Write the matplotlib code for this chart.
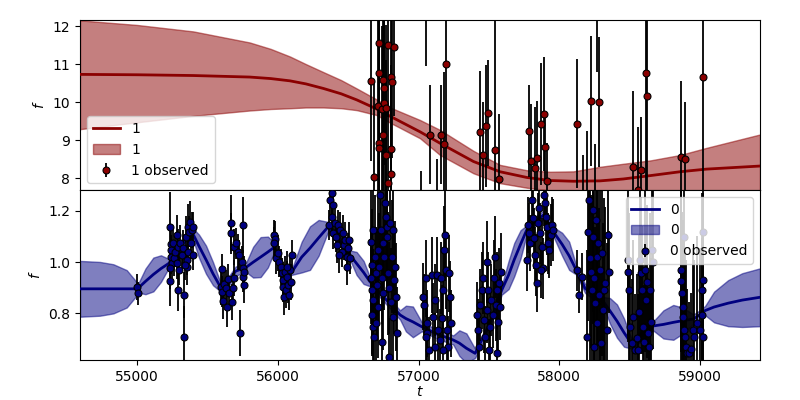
import matplotlib
matplotlib.use("Agg")
import matplotlib.pyplot as plt
import numpy as np

# ---- series "1" (top panel): GP mean and band
t1_grid = [54595, 55000, 55400, 55800, 55950, 56087, 56200, 56324, 56450, 56561, 56703,
           56798, 57011, 57153, 57390, 57579, 57769, 57934, 58100, 58290, 58455, 58650,
           58858, 59048, 59426]
mean1 = [10.73, 10.72, 10.70, 10.66, 10.62, 10.56, 10.48, 10.36, 10.22, 10.06, 9.82,
         9.63, 9.22, 8.92, 8.44, 8.17, 8.02, 7.94, 7.92, 7.93, 7.98, 8.07,
         8.17, 8.24, 8.32]
upper1 = [12.15, 12.03, 11.86, 11.57, 11.40, 11.20, 11.00, 10.79, 10.58, 10.36, 10.07,
          9.86, 9.53, 9.27, 8.72, 8.35, 8.21, 8.17, 8.18, 8.30, 8.38, 8.47,
          8.61, 8.80, 9.15]
lower1 = [9.29, 9.47, 9.64, 9.78, 9.82, 9.84, 9.86, 9.86, 9.84, 9.79, 9.66,
          9.46, 9.05, 8.61, 8.13, 7.87, 7.75, 7.68, 7.63, 7.58, 7.55, 7.55,
          7.58, 7.55, 7.45]

obs1_t = [56663, 56684, 56710, 56719, 56721, 56719, 56719, 56741, 56750, 56750, 56755,
          56755, 56769, 56769, 56781, 56785, 56802, 56802, 56802, 56809, 56828,
          57082, 57195, 57160, 57183, 57439, 57496, 57482, 57456, 57544, 57574,
          57787, 57892, 57873, 57799, 57830, 57844, 57901, 57913,
          58128, 58226, 58285, 58526, 58583, 58619, 58626, 58867, 58896, 59024,
          57051, 57020, 57129, 58169, 58197, 58254, 58271, 58562]
obs1_f = [10.56, 8.03, 9.90, 10.76, 11.55, 8.92, 8.79, 9.81, 10.58, 9.14, 10.36,
          9.99, 9.84, 8.61, 7.87, 11.50, 10.65, 8.77, 8.11, 10.52, 11.44,
          9.14, 10.99, 9.14, 8.90, 9.21, 9.71, 9.37, 8.60, 8.74, 7.98,
          9.24, 9.69, 9.43, 8.44, 8.26, 8.52, 8.81, 7.93,
          9.43, 10.03, 10.00, 8.29, 8.22, 10.76, 10.16, 8.56, 8.51, 10.65,
          12.7, 7.3, 7.5, 7.4, 7.5, 7.3, 12.8, 7.68]
obs1_err = [2.1, 2.5, 2.3, 2.2, 2.0, 2.6, 2.4, 2.2, 2.5, 2.3, 2.0,
            2.4, 2.2, 2.5, 2.1, 1.9, 2.4, 2.2, 2.3, 2.0, 1.8,
            1.3, 3.4, 1.3, 1.9, 1.6, 1.4, 1.6, 1.4, 3.4, 1.7,
            1.2, 1.5, 1.6, 1.5, 1.6, 1.5, 0.9, 1.0,
            1.7, 1.7, 1.7, 2.0, 1.4, 3.2, 2.9, 2.0, 1.5, 3.5,
            1.75, 0.9, 1.0, 1.2, 1.75, 1.6, 2.0, 1.66]

# ---- series "0" (bottom panel): GP mean and band half-width
t0_grid = [54595, 54737, 54832, 54927, 54986, 55005, 55060, 55116, 55170, 55225, 55300,
           55390, 55440, 55490, 55540, 55592, 55650, 55700, 55775, 55825, 55878, 55930,
           55975, 56040, 56110, 56170, 56229, 56290, 56359, 56430, 56513, 56560, 56610,
           56655, 56760, 56869, 56910, 56960, 57023, 57130, 57247, 57290, 57340, 57402,
           57500, 57591, 57640, 57680, 57725, 57769, 57830, 57887, 57958, 58020, 58070,
           58120, 58183, 58250, 58313, 58360, 58410, 58460, 58515, 58590, 58668, 58740,
           58810, 58880, 58953, 59000, 59036, 59100, 59200, 59300, 59426]
mean0 = [0.896, 0.896, 0.896, 0.896, 0.896, 0.897, 0.925, 0.952, 0.975, 0.995, 1.05,
         1.119, 1.063, 1.010, 0.955, 0.904, 0.925, 0.965, 0.980, 1.000, 1.020, 1.040,
         1.058, 0.96, 0.970, 1.020, 1.055, 1.095, 1.139, 1.09, 1.028, 0.995, 0.960,
         0.924, 0.86, 0.794, 0.780, 0.767, 0.748, 0.72, 0.696, 0.684, 0.664, 0.644,
         0.75, 0.891, 0.950, 1.010, 1.070, 1.126, 1.160, 1.184, 1.119, 1.070, 1.025,
         0.970, 0.898, 0.870, 0.846, 0.810, 0.770, 0.725, 0.680, 0.715, 0.751, 0.757,
         0.765, 0.772, 0.778, 0.795, 0.811, 0.825, 0.840, 0.852, 0.863]
half0 = [0.109, 0.105, 0.096, 0.073, 0.034, 0.015, 0.050, 0.066, 0.052, 0.018, 0.018,
         0.018, 0.045, 0.055, 0.045, 0.018, 0.018, 0.018, 0.018, 0.060, 0.078, 0.060,
         0.018, 0.018, 0.018, 0.060, 0.085, 0.070, 0.018, 0.018, 0.018, 0.045, 0.045,
         0.018, 0.018, 0.018, 0.050, 0.060, 0.018, 0.018, 0.018, 0.050, 0.058, 0.018,
         0.018, 0.018, 0.055, 0.065, 0.055, 0.018, 0.018, 0.018, 0.018, 0.045, 0.055,
         0.018, 0.018, 0.018, 0.018, 0.050, 0.065, 0.055, 0.018, 0.018, 0.018, 0.055,
         0.068, 0.050, 0.018, 0.018, 0.018, 0.060, 0.090, 0.105, 0.113]

obs0_t = [55002, 55004,
          55234, 55239, 55241, 55239, 55246, 55234, 55234, 55258, 55265, 55270, 55282, 55282,
          55294, 55301, 55306, 55289, 55317, 55329, 55336, 55336, 55348, 55353, 55360, 55365,
          55372, 55376, 55384, 55388, 55395, 55400, 55358, 55341,
          55601, 55594, 55601, 55609, 55618, 55632, 55639, 55649, 55656, 55665, 55665, 55672,
          55679, 55689, 55689, 55703, 55715, 55727, 55732, 55744, 55751, 55755, 55755, 55760,
          55763,
          55973, 55980, 55973, 55988, 56004, 56011, 56021, 56028, 56035, 56040, 56045, 56052,
          56059, 56068, 56075, 56082, 56087, 56099, 56094, 56063,
          56371, 56383, 56395, 56366, 56383, 56395, 56407, 56414, 56423, 56430, 56442, 56454,
          56461, 56471, 56478, 56490, 56494, 56502, 56508, 56513, 56438,
          56660, 56667, 56660, 56667, 56674, 56667, 56674, 56684, 56679, 56691, 56698, 56703,
          56710, 56715, 56722, 56727, 56731, 56738, 56746, 56750, 56755, 56762, 56769, 56774,
          56779, 56786, 56793, 56798, 56803, 56809, 56817, 56821, 56826, 56833, 56840, 56845,
          56793, 56698, 56738,
          57035, 57040, 57054, 57058, 57063, 57077, 57094, 57106, 57118, 57129, 57141, 57153,
          57158, 57165, 57172, 57182, 57189, 57196, 57200, 57212, 57219, 57224, 57229, 57054,
          57118, 57177,
          57414, 57425, 57433, 57437, 57449, 57456, 57466, 57473, 57485, 57489, 57497, 57508,
          57513, 57527, 57537, 57544, 57551, 57556, 57560, 57567, 57575, 57579, 57584, 57504,
          57781, 57788, 57792, 57773, 57804, 57811, 57821, 57828, 57835, 57845, 57852, 57859,
          57864, 57876, 57882, 57892, 57899, 57906, 57916, 57923, 57930, 57939, 57946, 57954,
          57868,
          58124, 58160, 58143,
          58207, 58219, 58224, 58231, 58238, 58242, 58247, 58254, 58261, 58266, 58271, 58278,
          58285, 58290, 58294, 58302, 58309, 58318, 58325, 58337, 58349, 58356, 58195, 58214,
          58249,
          58491, 58498, 58503, 58515, 58527, 58539, 58555, 58562, 58569, 58574, 58579, 58586,
          58593, 58602, 58609, 58616, 58621, 58633, 58640, 58645, 58650, 58657, 58664, 58491,
          58863, 58870, 58877, 58882, 58886, 58893, 58901, 58910, 58924, 58934, 58948, 58957,
          58976, 59000, 59012, 59019, 59024, 59012, 58886, 59024, 58865]
obs0_f = [0.904, 0.878,
          1.136, 1.070, 1.048, 1.022, 0.998, 0.976, 0.928, 1.074, 1.015, 1.041, 1.106, 0.996,
          1.061, 0.969, 1.074, 0.891, 1.028, 1.054, 0.872, 0.709, 1.100, 1.009, 1.041, 1.139,
          1.119, 1.158, 1.074, 1.126, 1.028, 1.136, 0.982, 0.989,
          0.972, 0.904, 0.885, 0.850, 0.915, 0.898, 0.826, 0.933, 0.878, 1.152, 1.113, 0.846,
          0.898, 0.937, 1.061, 1.074, 1.041, 1.028, 0.722, 1.002, 0.976, 1.145, 0.943, 0.911,
          0.963,
          1.106, 1.089, 1.076, 1.015, 1.035, 1.002, 0.982, 0.956, 0.930, 0.904, 0.865, 0.963,
          0.891, 0.943, 0.911, 0.872, 0.969, 1.028, 0.924, 0.982,
          1.243, 1.269, 1.223, 1.145, 1.178, 1.113, 1.152, 1.100, 1.067, 1.145, 1.126, 1.041,
          1.113, 1.067, 1.087, 1.022, 0.982, 1.054, 1.087, 1.015, 1.028,
          1.080, 0.989, 0.937, 0.891, 0.852, 0.794, 0.748, 0.709, 1.126, 1.022, 0.956, 0.911,
          0.826, 1.048, 0.982, 1.262, 1.126, 0.937, 0.878, 1.074, 1.022, 1.230, 1.178, 1.139,
          1.100, 0.956, 0.898, 1.152, 0.846, 1.022, 0.787, 1.126, 0.930, 0.982, 0.865, 0.722,
          0.631, 0.761, 0.690,
          0.865, 0.833, 0.937, 0.761, 0.722, 0.657, 0.950, 0.787, 0.852, 0.950, 0.735, 0.696,
          0.937, 0.781, 0.891, 1.048, 1.106, 0.969, 0.735, 0.670, 0.956, 0.865, 0.761, 0.709,
          0.670, 0.657,
          0.794, 0.735, 0.670, 0.833, 0.891, 0.937, 0.774, 0.709, 1.002, 0.813, 0.891, 0.748,
          0.852, 0.794, 0.937, 1.022, 0.833, 0.644, 0.891, 0.768, 0.917, 0.826, 0.963, 0.657,
          1.145, 1.113, 1.074, 1.009, 1.243, 1.171, 1.093, 1.028, 0.989, 0.917, 1.152, 1.210,
          1.113, 1.061, 0.976, 1.262, 1.230, 1.178, 1.139, 1.074, 1.048, 1.106, 1.145, 1.126,
          0.969,
          0.969, 0.944, 0.872,
          1.119, 1.015, 0.963, 0.891, 1.204, 1.100, 0.937, 0.839, 1.165, 1.022, 0.761, 1.074,
          0.872, 0.969, 0.683, 1.035, 0.813, 0.891, 0.917, 0.735, 1.106, 0.963, 0.709, 1.243,
          0.670,
          0.963, 0.891, 0.748, 0.683, 0.787, 0.657, 0.703, 0.657, 0.807, 1.009, 0.956, 0.891,
          0.748, 0.690, 0.969, 0.852, 0.924, 0.722, 0.670, 0.891, 0.768, 1.048, 1.002, 1.009,
          0.928, 0.878, 0.826, 0.787, 0.735, 0.709, 0.670, 0.644, 0.644, 0.660, 0.735, 0.709,
          0.761, 0.735, 0.891, 0.930, 0.709, 0.794, 1.100, 1.119, 0.969]
obs0_err = [0.05, 0.045,
            0.14, 0.08, 0.06, 0.07, 0.06, 0.08, 0.10, 0.06, 0.07, 0.06, 0.08, 0.06,
            0.07, 0.06, 0.07, 0.08, 0.06, 0.07, 0.09, 0.12, 0.08, 0.06, 0.07, 0.09,
            0.06, 0.08, 0.06, 0.07, 0.06, 0.06, 0.07, 0.06,
            0.06, 0.07, 0.06, 0.07, 0.06, 0.07, 0.08, 0.06, 0.07, 0.11, 0.08, 0.07,
            0.06, 0.07, 0.07, 0.06, 0.07, 0.06, 0.09, 0.06, 0.07, 0.11, 0.06, 0.07,
            0.06,
            0.06, 0.07, 0.06, 0.06, 0.07, 0.06, 0.07, 0.06, 0.07, 0.06, 0.07, 0.06,
            0.07, 0.06, 0.07, 0.06, 0.06, 0.06, 0.07, 0.06,
            0.07, 0.08, 0.07, 0.06, 0.07, 0.06, 0.07, 0.06, 0.07, 0.06, 0.07, 0.06,
            0.07, 0.06, 0.07, 0.06, 0.07, 0.06, 0.07, 0.06, 0.07,
            0.28, 0.22, 0.18, 0.25, 0.20, 0.16, 0.18, 0.15, 0.28, 0.24, 0.18, 0.22,
            0.20, 0.26, 0.21, 0.28, 0.24, 0.18, 0.22, 0.26, 0.21, 0.28, 0.24, 0.26,
            0.21, 0.24, 0.18, 0.26, 0.21, 0.22, 0.18, 0.24, 0.21, 0.18, 0.21, 0.18,
            0.15, 0.18, 0.21,
            0.13, 0.12, 0.15, 0.13, 0.12, 0.13, 0.15, 0.13, 0.14, 0.15, 0.13, 0.12,
            0.14, 0.13, 0.15, 0.17, 0.18, 0.15, 0.13, 0.12, 0.15, 0.14, 0.13, 0.12,
            0.13, 0.12,
            0.13, 0.12, 0.13, 0.14, 0.15, 0.14, 0.13, 0.12, 0.16, 0.13, 0.15, 0.13,
            0.14, 0.13, 0.15, 0.16, 0.14, 0.13, 0.15, 0.13, 0.14, 0.13, 0.15, 0.12,
            0.11, 0.12, 0.11, 0.12, 0.12, 0.11, 0.12, 0.11, 0.12, 0.11, 0.12, 0.11,
            0.12, 0.11, 0.12, 0.12, 0.11, 0.12, 0.11, 0.12, 0.11, 0.12, 0.11, 0.12,
            0.11,
            0.08, 0.09, 0.07,
            0.35, 0.40, 0.30, 0.36, 0.40, 0.34, 0.36, 0.30, 0.40, 0.36, 0.30, 0.40,
            0.34, 0.36, 0.30, 0.40, 0.34, 0.36, 0.30, 0.34, 0.20, 0.16, 0.34, 0.36,
            0.30,
            0.25, 0.30, 0.22, 0.25, 0.30, 0.22, 0.25, 0.22, 0.30, 0.32, 0.30, 0.25,
            0.24, 0.22, 0.32, 0.27, 0.30, 0.24, 0.22, 0.30, 0.25, 0.32, 0.34, 0.32,
            0.38, 0.32, 0.34, 0.30, 0.38, 0.32, 0.34, 0.25, 0.20, 0.22, 0.32, 0.30,
            0.34, 0.32, 0.38, 0.34, 0.32, 0.30, 0.38, 0.38, 0.32]

XLIM = (54595, 59426)

fig, (ax1, ax0) = plt.subplots(2, 1, sharex=True, figsize=(8, 4), dpi=100)
fig.subplots_adjust(left=0.1, right=0.95, top=0.95, bottom=0.1, hspace=0)


def draw(ax, grid, mean, lo, hi, t, f, err, color, name):
    line, = ax.plot(grid, mean, color=color, lw=2, zorder=3)
    band = ax.fill_between(grid, lo, hi, color=color, alpha=0.5, zorder=2)
    eb = ax.errorbar(t, f, yerr=err, fmt='o', ms=5, mfc=color, mec='k', mew=0.8,
                     ecolor='k', elinewidth=1.3, zorder=4)
    return [line, band, eb], [name, name, name + ' observed']


h1, l1 = draw(ax1, t1_grid, mean1, lower1, upper1, obs1_t, obs1_f, obs1_err, 'darkred', '1')
ax1.legend(h1, l1, loc='lower left')
ax1.set_ylim(7.69, 12.16)
ax1.set_yticks([8, 9, 10, 11, 12])
ax1.set_ylabel('$f$')

m0 = np.array(mean0)
w0 = np.array(half0)
h0, l0 = draw(ax0, t0_grid, mean0, m0 - w0, m0 + w0, obs0_t, obs0_f, obs0_err, 'navy', '0')
ax0.legend(h0, l0, loc='upper right')
ax0.set_ylim(0.618, 1.282)
ax0.set_yticks([0.8, 1.0, 1.2])
ax0.set_ylabel('$f$')
ax0.set_xlabel('$t$', labelpad=1)
ax0.set_xlim(*XLIM)
ax0.set_xticks([55000, 56000, 57000, 58000, 59000])

fig.savefig('out.png', dpi=100)
